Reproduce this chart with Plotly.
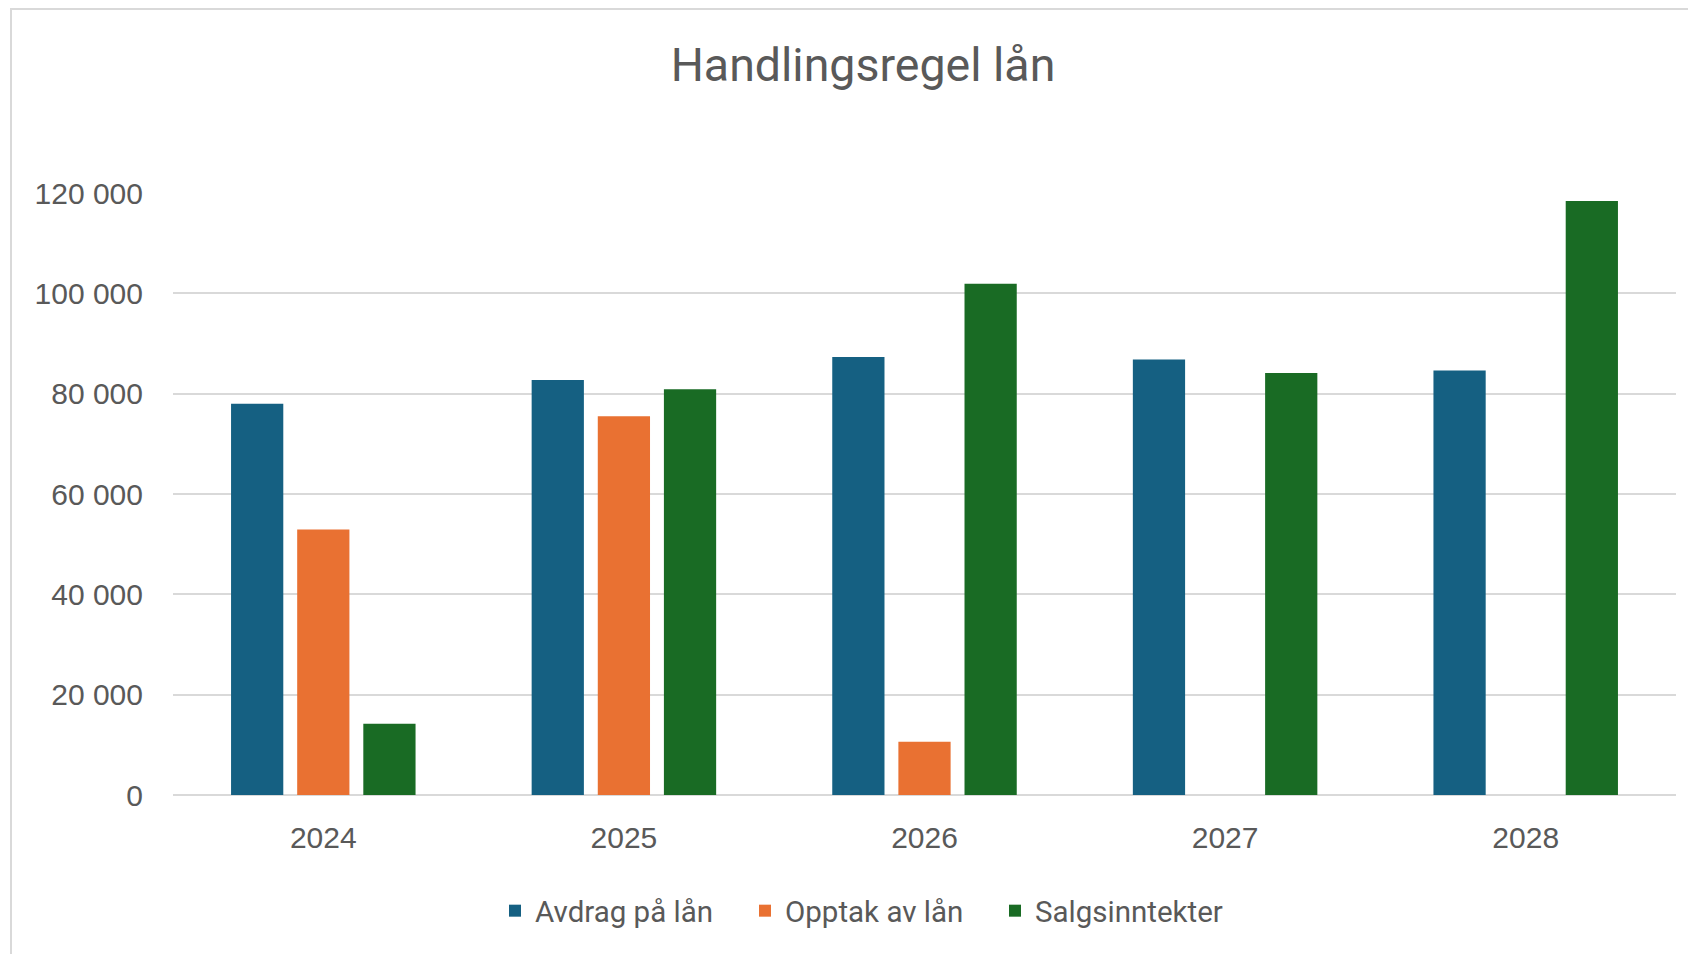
import plotly.graph_objects as go

years = ["2024", "2025", "2026", "2027", "2028"]
avdrag = [78000, 82700, 87300, 86800, 84600]
opptak = [52900, 75500, 10600, 0, 0]
salg = [14200, 80900, 101900, 84100, 118400]
series_names = ["Avdrag på lån", "Opptak av lån", "Salgsinntekter"]
colors = ["#156082", "#E97132", "#196B24"]
y_ticks = [0, 20000, 40000, 60000, 80000, 100000, 120000]

# page body has an 8px margin; figure coordinates are screen coordinates minus 8
W, H = 1680, 946
L, T = 165, 185
R = W - 1668
B = H - 787
pw = W - L - R
ph = H - T - B

fig = go.Figure()
for name, vals, col in zip(series_names, [avdrag, opptak, salg], colors):
    fig.add_trace(go.Bar(x=years, y=vals, name=name, marker=dict(color=col, line=dict(width=0))))

fig.update_layout(
    width=W, height=H,
    margin=dict(l=L, r=R, t=T, b=B),
    paper_bgcolor="white", plot_bgcolor="white",
    separators=", ",
    barmode="group", bargap=0.34, bargroupgap=0.21,
    title=dict(text="Handlingsregel lån", x=855 / W, xanchor="center",
               y=1 - 57 / H, yanchor="middle",
               font=dict(family="Roboto, sans-serif", size=46.5, color="#595959")),
    font=dict(family="Liberation Sans, Arial, sans-serif", color="#595959"),
    xaxis=dict(range=[-0.5, 4.5], showgrid=False, showline=False, ticks="",
               tickfont=dict(size=30, color="#595959"), ticklabelstandoff=22),
    yaxis=dict(range=[0, 120000], tickvals=y_ticks, tickformat=",d",
               showgrid=True, gridcolor="#d9d9d9", gridwidth=2,
               zeroline=True, zerolinecolor="#d9d9d9", zerolinewidth=2,
               showline=False, ticks="", tickfont=dict(size=30, color="#595959"),
               ticklabelstandoff=29),
    legend=dict(orientation="h", x=(862 - L) / pw, xanchor="center",
                y=(787 - 903) / ph, yanchor="middle",
                font=dict(family="Roboto, sans-serif", size=29.5, color="#595959"),
                entrywidth=205, entrywidthmode="pixels",
                itemsizing="constant", traceorder="normal"),
    shapes=[dict(type="rect", xref="paper", yref="paper",
                 x0=(3 - L) / pw, x1=(W + 20 - L) / pw,
                 y0=(787 - H - 30) / ph, y1=(787 - 1) / ph,
                 line=dict(color="#d9d9d9", width=2), fillcolor="rgba(0,0,0,0)", layer="below")],
)

fig.write_html("out.html")
